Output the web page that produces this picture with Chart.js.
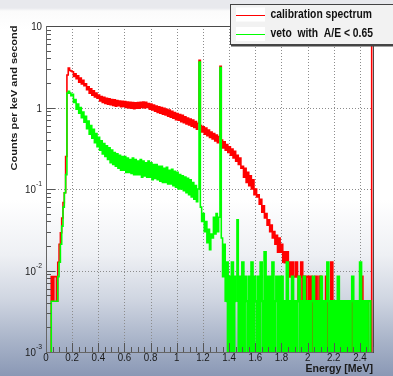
<!DOCTYPE html>
<html lang="en">
<head>
<meta charset="UTF-8">
<title>Calibration spectrum</title>
<script src="https://cdn.jsdelivr.net/npm/chart.js"></script>
<style>
  html, body { margin: 0; padding: 0; }
  body {
    width: 393px; height: 376px; overflow: hidden; position: relative;
    background: linear-gradient(to bottom, #e8e9ed 0px, #e8e9ed 8px, #fbfbfb 11px, #ffffff 30px,
      #ffffff 200px, #eef0f4 255px, #cfd5e1 300px, #a9b4c9 340px, #8a98b5 376px);
  }
  canvas { position: absolute; left: 0; top: 0; }
</style>
</head>
<body>
<canvas id="chart" width="393" height="376"></canvas>
<script>
// counts per keV and second, one value per 0.01 MeV bin (0 .. 2.5 MeV)
const calibration = [
  0, 0, 0, 0, 0.0084, 0.0042, 0.0084, 0.0084, 0.0042, 0.0126,
  0.021, 0.029, 0.044, 0.068, 0.09, 0.25, 2.5, 3.05, 2.85, 2.8,
  2.75, 2.4, 2.6, 2.25, 2.45, 2.05, 2.3, 1.95, 2.15, 1.85,
  1.95, 1.65, 1.8, 1.5, 1.7, 1.42, 1.6, 1.35, 1.5, 1.3,
  1.42, 1.2, 1.36, 1.15, 1.33, 1.12, 1.3, 1.1, 1.28, 1.08,
  1.25, 1.06, 1.24, 1.04, 1.22, 1.05, 1.2, 1.02, 1.19, 1.03,
  1.18, 1.0, 1.17, 0.99, 1.16, 0.98, 1.15, 0.97, 1.14, 0.98,
  1.15, 0.98, 1.16, 1.0, 1.17, 0.99, 1.16, 1.0, 1.12, 0.95,
  1.1, 0.93, 1.07, 0.9, 1.04, 0.87, 1.02, 0.85, 1.0, 0.83,
  0.98, 0.81, 0.95, 0.78, 0.93, 0.76, 0.9, 0.74, 0.87, 0.71,
  0.84, 0.7, 0.82, 0.67, 0.8, 0.65, 0.77, 0.63, 0.74, 0.61,
  0.72, 0.59, 0.7, 0.57, 0.67, 0.54, 0.64, 3.8, 0.6, 0.5,
  0.58, 0.47, 0.56, 0.45, 0.53, 0.43, 0.5, 0.41, 0.48, 0.39,
  0.46, 0.37, 0.44, 3.2, 0.4, 0.32, 0.38, 0.3, 0.35, 0.28,
  0.33, 0.26, 0.31, 0.24, 0.29, 0.22, 0.26, 0.2, 0.24, 0.18,
  0.19, 0.14, 0.18, 0.12, 0.16, 0.11, 0.145, 0.1, 0.13, 0.085,
  0.1, 0.08, 0.085, 0.065, 0.075, 0.052, 0.062, 0.044, 0.05, 0.036,
  0.042, 0.03, 0.036, 0.025, 0.03, 0.021, 0.027, 0.0168, 0.025, 0.0168,
  0.021, 0.0126, 0.0168, 0.0126, 0.0168, 0.0084, 0.0126, 0.0084, 0.0126, 0.0084,
  0.0084, 0.0126, 0.0084, 0.0042, 0.0084, 0.0126, 0.0042, 0.0084, 0.0042, 0.0084,
  0.0084, 0.0042, 0.0084, 0, 0.0042, 0, 0.0084, 0.0042, 0, 0.0084,
  0.0042, 0, 0.0042, 0.0042, 0.0084, 0, 0.0042, 0, 0.0126, 0.0042,
  0, 0.0042, 0, 0.0042, 0, 0.0042, 0, 0, 0.0042, 0,
  0, 0.0042, 0, 0, 0.0042, 0, 0, 0, 0, 0.0042,
  0, 0.0084, 0, 0, 0, 0.0042, 0, 0, 0, 50
];
const veto = [
  0, 0, 0, 0, 0.0042, 0.0042, 0.0042, 0.0042, 0.0042, 0.0084,
  0.0126, 0.021, 0.035, 0.06, 0.09, 0.15, 1.5, 1.58, 1.5, 1.4,
  1.45, 1.15, 1.25, 0.95, 1.1, 0.85, 1.0, 0.75, 0.88, 0.66,
  0.78, 0.55, 0.68, 0.47, 0.6, 0.42, 0.54, 0.37, 0.48, 0.33,
  0.43, 0.3, 0.39, 0.27, 0.36, 0.25, 0.34, 0.23, 0.32, 0.21,
  0.3, 0.2, 0.28, 0.19, 0.27, 0.18, 0.26, 0.17, 0.25, 0.17,
  0.25, 0.16, 0.24, 0.16, 0.23, 0.155, 0.24, 0.15, 0.23, 0.15,
  0.22, 0.15, 0.23, 0.14, 0.22, 0.145, 0.21, 0.14, 0.22, 0.14,
  0.21, 0.13, 0.2, 0.135, 0.2, 0.13, 0.19, 0.125, 0.19, 0.12,
  0.18, 0.12, 0.185, 0.115, 0.17, 0.115, 0.175, 0.11, 0.165, 0.105,
  0.16, 0.1, 0.15, 0.1, 0.145, 0.095, 0.14, 0.09, 0.135, 0.085,
  0.13, 0.08, 0.12, 0.075, 0.11, 0.07, 0.1, 3.6, 0.06, 0.04,
  0.05, 0.03, 0.04, 0.022, 0.032, 0.018, 0.028, 0.025, 0.045, 0.028,
  0.05, 0.03, 0.045, 3.1, 0.025, 0.0084, 0.021, 0.0042, 0.0126, 0,
  0.0084, 0, 0.0126, 0, 0.0084, 0.0042, 0.042, 0, 0.0084, 0,
  0.0126, 0, 0.0084, 0.0042, 0, 0.0084, 0, 0.0126, 0, 0.0084,
  0.0042, 0, 0.0084, 0, 0.0126, 0.0042, 0, 0.0168, 0, 0.0084,
  0, 0.0084, 0, 0.0126, 0, 0.0042, 0.0084, 0, 0.0084, 0,
  0.0084, 0, 0.0042, 0, 0.0126, 0, 0.0042, 0, 0.0084, 0,
  0.0042, 0, 0.0042, 0.0084, 0, 0.0042, 0, 0.0084, 0, 0.0042,
  0, 0.0042, 0, 0.0042, 0.0084, 0, 0.0042, 0, 0.0042, 0,
  0.0084, 0, 0.0042, 0, 0.0042, 0.0126, 0, 0.0042, 0, 0.0042,
  0, 0.0042, 0, 0.0084, 0, 0.0042, 0, 0.0042, 0, 0.0042,
  0, 0.0042, 0, 0.0042, 0.0084, 0, 0.0042, 0, 0.0042, 0,
  0.0126, 0, 0.0042, 0, 0.0042, 0, 0.0042, 0.0042, 0, 0
];
const binWidth = 0.01; // MeV
const seriesNames = ['calibration spectrum', 'veto  with  A/E < 0.65'];
const seriesColors = ['#ff0000', '#00ff00'];
const xTickValues = [0, 0.2, 0.4, 0.6, 0.8, 1, 1.2, 1.4, 1.6, 1.8, 2, 2.2, 2.4];
const xTickLabels = ['0', '0.2', '0.4', '0.6', '0.8', '1', '1.2', '1.4', '1.6', '1.8', '2', '2.2', '2.4'];
const yTickValues = [0.001, 0.01, 0.1, 1, 10];
const yTickLabels = [['10', '-3'], ['10', '-2'], ['10', '-1'], ['1', ''], ['10', '']];
const xTitle = 'Energy [MeV]';
const yTitle = 'Counts per keV and second';

const FONT = '"Liberation Sans", Arial, Helvetica, sans-serif';
const yFloor = 0.0005; // empty bins are drawn down to the axis

function toPoints(values) {
  return values.map((v, i) => ({ x: (i + 0.5) * binWidth, y: v > 0 ? v : yFloor }));
}

// single-count tail is drawn a bit heavier, like the dense original binning
const tailWidth = c => (c.p0.parsed.y < 0.02 && c.p1.parsed.y < 0.02 && c.p0.parsed.x > 1.3) ? 2.3 : undefined;

function drawText(ctx, s, x, y, font, align, sx) {
  ctx.save();
  ctx.font = font;
  ctx.textAlign = align;
  ctx.textBaseline = 'middle';
  ctx.translate(x, y);
  ctx.scale(sx, 1);
  ctx.fillText(s, 0, 0);
  ctx.restore();
}

const framePlugin = {
  id: 'frame',
  beforeDatasetsDraw(chart) {
    const { ctx, chartArea: a, scales: { x, y } } = chart;
    ctx.save();
    // dotted grid
    ctx.strokeStyle = '#8c8c8c';
    ctx.lineWidth = 1;
    ctx.setLineDash([1, 2]);
    xTickValues.forEach(v => {
      if (v <= x.min) return;
      const px = Math.round(x.getPixelForValue(v)) + 0.5;
      ctx.beginPath(); ctx.moveTo(px, a.top); ctx.lineTo(px, a.bottom); ctx.stroke();
    });
    yTickValues.forEach(v => {
      if (v <= y.min || v >= y.max) return;
      const py = Math.round(y.getPixelForValue(v)) + 0.5;
      ctx.beginPath(); ctx.moveTo(a.left, py); ctx.lineTo(a.right, py); ctx.stroke();
    });
    ctx.setLineDash([]);
    // frame
    ctx.strokeStyle = '#4a4a4a';
    ctx.strokeRect(Math.round(a.left) + 0.5, Math.round(a.top) + 0.5,
      Math.round(a.right - a.left), Math.round(a.bottom - a.top));
    ctx.restore();
  },
  afterDatasetsDraw(chart) {
    const { ctx, chartArea: a, scales: { x, y } } = chart;
    ctx.save();
    ctx.strokeStyle = '#555';
    ctx.lineWidth = 1;
    // x ticks (inside, pointing up)
    for (let k = 0; k <= 50; k++) {
      const v = k * 0.05;
      const px = Math.round(x.getPixelForValue(v)) + 0.5;
      const len = k % 4 === 0 ? 9 : 5;
      ctx.beginPath(); ctx.moveTo(px, a.bottom); ctx.lineTo(px, a.bottom - len); ctx.stroke();
    }
    // y ticks (inside, pointing right)
    [0.001, 0.01, 0.1, 1].forEach(d => {
      for (let m = 1; m <= 9; m++) {
        const py = Math.round(y.getPixelForValue(d * m)) + 0.5;
        const len = m === 1 ? 9 : 5;
        ctx.beginPath(); ctx.moveTo(a.left, py); ctx.lineTo(a.left + len, py); ctx.stroke();
      }
    });
    // left and bottom axis lines
    ctx.strokeStyle = '#666';
    ctx.beginPath();
    ctx.moveTo(Math.round(a.left) + 0.5, a.top); ctx.lineTo(Math.round(a.left) + 0.5, a.bottom + 0.5);
    ctx.lineTo(a.right, a.bottom + 0.5);
    ctx.stroke();

    ctx.fillStyle = '#1a1a1a';
    // x tick labels
    xTickValues.forEach((v, i) => {
      drawText(ctx, xTickLabels[i], x.getPixelForValue(v), a.bottom + 6, '11.5px ' + FONT, 'center', 0.85);
    });
    // y tick labels with superscript exponent
    yTickValues.forEach((v, i) => {
      const py = y.getPixelForValue(v);
      const [base, exp] = yTickLabels[i];
      const right = a.left - 4;
      let bx = right;
      if (exp) {
        ctx.font = '8px ' + FONT;
        const w = ctx.measureText(exp).width * 0.85;
        drawText(ctx, exp, right, py - 5, '8px ' + FONT, 'right', 0.85);
        bx = right - w;
      }
      drawText(ctx, base, bx, py + 1, '11.5px ' + FONT, 'right', 0.85);
    });
    // axis titles
    drawText(ctx, xTitle, a.right, 369, 'bold 11.5px ' + FONT, 'right', 0.92);
    ctx.save();
    ctx.translate(14, 98);
    ctx.rotate(-Math.PI / 2);
    ctx.scale(1, 0.9);
    ctx.font = 'bold 11px ' + FONT;
    ctx.textAlign = 'center';
    ctx.textBaseline = 'middle';
    ctx.fillText(yTitle, 0, 0);
    ctx.restore();

    // legend box
    ctx.fillStyle = '#f2f2f2';
    ctx.fillRect(230, 4, 170, 41);
    ctx.strokeStyle = '#444';
    ctx.strokeRect(230.5, 4.5, 170, 40);
    ctx.fillStyle = '#444';
    ctx.fillRect(231, 45, 170, 1.5);
    seriesNames.forEach((name, i) => {
      const cy = 14.5 + i * 19.5;
      ctx.fillStyle = '#ffffff';
      ctx.fillRect(236, cy - 7, 29, 14);
      ctx.strokeStyle = seriesColors[i];
      ctx.beginPath(); ctx.moveTo(236, Math.round(cy) + 0.5); ctx.lineTo(265, Math.round(cy) + 0.5); ctx.stroke();
      ctx.fillStyle = '#111';
      drawText(ctx, name, 270.5, cy, 'bold 12px ' + FONT, 'left', 0.86);
    });
    ctx.restore();
  }
};

new Chart(document.getElementById('chart'), {
  type: 'line',
  data: {
    datasets: [
      { label: seriesNames[0], data: toPoints(calibration), borderColor: seriesColors[0], order: 2,
        segment: { borderWidth: tailWidth } },
      { label: seriesNames[1], data: toPoints(veto), borderColor: seriesColors[1], order: 1,
        segment: { borderWidth: tailWidth } }
    ]
  },
  options: {
    responsive: false,
    animation: false,
    devicePixelRatio: 1,
    layout: { padding: { top: 26, right: 20, left: 0, bottom: 0 } },
    elements: {
      line: { stepped: 'middle', borderWidth: 1.6, tension: 0, fill: false },
      point: { radius: 0, hoverRadius: 0 }
    },
    plugins: { legend: { display: false }, tooltip: { enabled: false } },
    scales: {
      x: {
        type: 'linear', min: 0, max: 2.5,
        grid: { display: false, drawTicks: false }, border: { display: false },
        ticks: { display: false },
        afterFit(s) { s.height = 24; }
      },
      y: {
        type: 'logarithmic', min: 0.001, max: 10,
        grid: { display: false, drawTicks: false }, border: { display: false },
        ticks: { display: false },
        afterFit(s) { s.width = 46; }
      }
    }
  },
  plugins: [framePlugin]
});
</script>
</body>
</html>
